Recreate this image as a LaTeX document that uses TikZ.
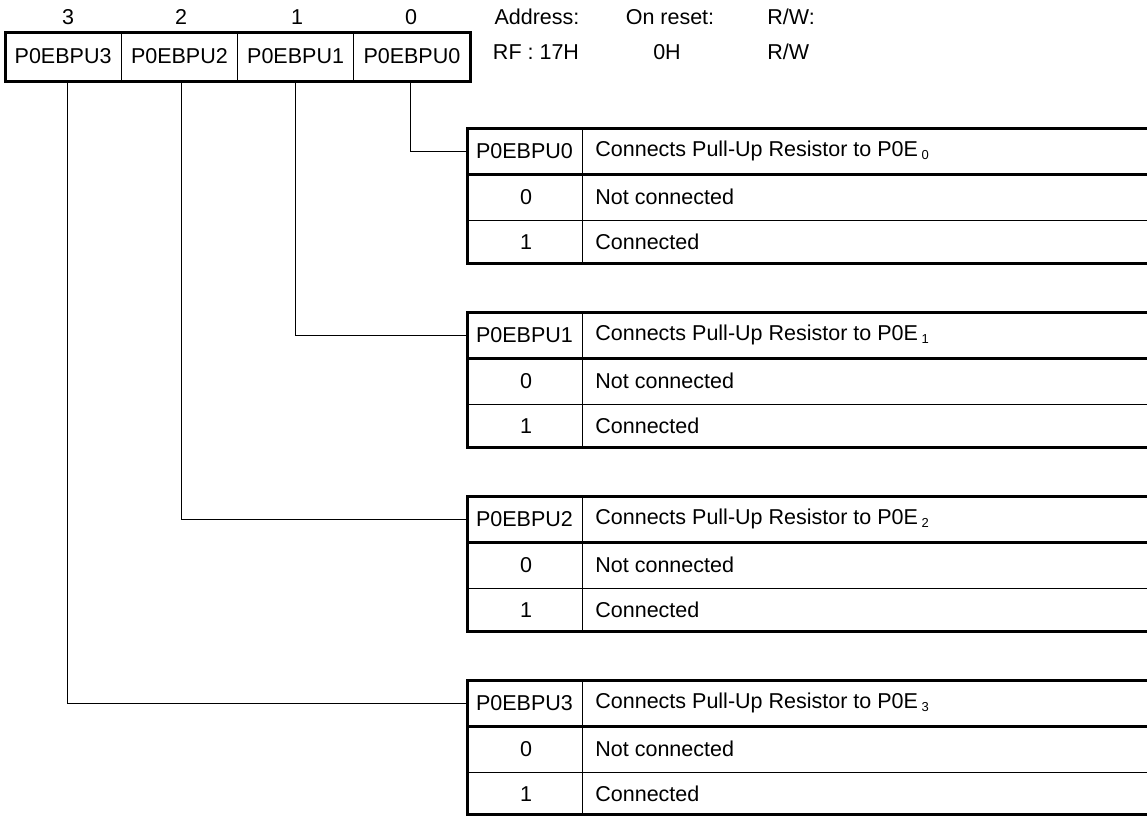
\documentclass[tikz,border=0pt]{standalone}
\usepackage{fontspec}
\setmainfont{Liberation Sans}
\newcommand{\bitsub}[1]{\,\raisebox{-0.25ex}{\fontsize{6.5}{7}\selectfont #1}}
\begin{document}
\begin{tikzpicture}[x=0.5pt,y=0.5pt]
\tikzstyle{every node}+=[inner sep=0pt,font=\fontsize{10.75}{13}\selectfont]
\tikzstyle{field}=[draw=black,line width=0.5pt,minimum width=58.125pt,minimum height=24.5pt]
\tikzstyle{head}=[minimum width=57.5pt,minimum height=23pt]
\tikzstyle{thick}=[black,line width=1.5pt]
\tikzstyle{thin}=[black,line width=0.5pt]
\useasboundingbox (0,0) rectangle (1147,-816);
% register
\draw (68,-17) node {3};
\draw (181,-17) node {2};
\draw (297,-17) node {1};
\draw (411,-17) node {0};
\node [field] (b3) at (63.1,-56.5) {P0EBPU3};
\node [field] (b2) at (179.4,-56.5) {P0EBPU2};
\node [field] (b1) at (295.6,-56.5) {P0EBPU1};
\node [field] (b0) at (411.9,-56.5) {P0EBPU0};
\draw [thick] (5,-32) rectangle (470,-81);
\node (addr) at (537,-17) {Address:};
\node (addrv) at (536,-52) {RF : 17H};
\node (rst) at (670,-17) {On reset:};
\node (rstv) at (667,-52) {0H};
\node [anchor=west] (rw) at (767,-17) {R/W:};
\node [anchor=west] (rwv) at (767,-52) {R/W};
% bit 0
\draw [thick] (1147,-128) -- (467,-128) -- (467,-263) -- (1147,-263);
\draw [thick] (467,-174) -- (1147,-174);
\draw [thin] (467,-220) -- (1147,-220);
\draw [thin] (582,-128) -- (582,-263);
\node [head] (h0) at (524.5,-151) {P0EBPU0};
\node [anchor=west] (d0) at (595,-151) {Connects Pull-Up Resistor to P0E\bitsub{0}};
\node (z0) at (526,-197) {0};
\node [anchor=west] (n0) at (595,-197) {Not connected};
\node (o0) at (526,-242) {1};
\node [anchor=west] (c0) at (595,-242) {Connected};
\draw [thin] ([xshift=-0.75pt]b0.south) |- (h0.west);
% bit 1
\draw [thick] (1147,-312) -- (467,-312) -- (467,-447) -- (1147,-447);
\draw [thick] (467,-358) -- (1147,-358);
\draw [thin] (467,-404) -- (1147,-404);
\draw [thin] (582,-312) -- (582,-447);
\node [head] (h1) at (524.5,-335) {P0EBPU1};
\node [anchor=west] (d1) at (595,-335) {Connects Pull-Up Resistor to P0E\bitsub{1}};
\node (z1) at (526,-381) {0};
\node [anchor=west] (n1) at (595,-381) {Not connected};
\node (o1) at (526,-426) {1};
\node [anchor=west] (c1) at (595,-426) {Connected};
\draw [thin] (b1.south) |- (h1.west);
% bit 2
\draw [thick] (1147,-496) -- (467,-496) -- (467,-631) -- (1147,-631);
\draw [thick] (467,-542) -- (1147,-542);
\draw [thin] (467,-588) -- (1147,-588);
\draw [thin] (582,-496) -- (582,-631);
\node [head] (h2) at (524.5,-519) {P0EBPU2};
\node [anchor=west] (d2) at (595,-519) {Connects Pull-Up Resistor to P0E\bitsub{2}};
\node (z2) at (526,-565) {0};
\node [anchor=west] (n2) at (595,-565) {Not connected};
\node (o2) at (526,-610) {1};
\node [anchor=west] (c2) at (595,-610) {Connected};
\draw [thin] ([xshift=1pt]b2.south) |- (h2.west);
% bit 3
\draw [thick] (1147,-680) -- (467,-680) -- (467,-814.5) -- (1147,-814.5);
\draw [thick] (467,-726) -- (1147,-726);
\draw [thin] (467,-772) -- (1147,-772);
\draw [thin] (582,-680) -- (582,-814.5);
\node [head] (h3) at (524.5,-703) {P0EBPU3};
\node [anchor=west] (d3) at (595,-703) {Connects Pull-Up Resistor to P0E\bitsub{3}};
\node (z3) at (526,-749) {0};
\node [anchor=west] (n3) at (595,-749) {Not connected};
\node (o3) at (526,-794) {1};
\node [anchor=west] (c3) at (595,-794) {Connected};
\draw [thin] ([xshift=2pt]b3.south) |- (h3.west);
\end{tikzpicture}
\end{document}
